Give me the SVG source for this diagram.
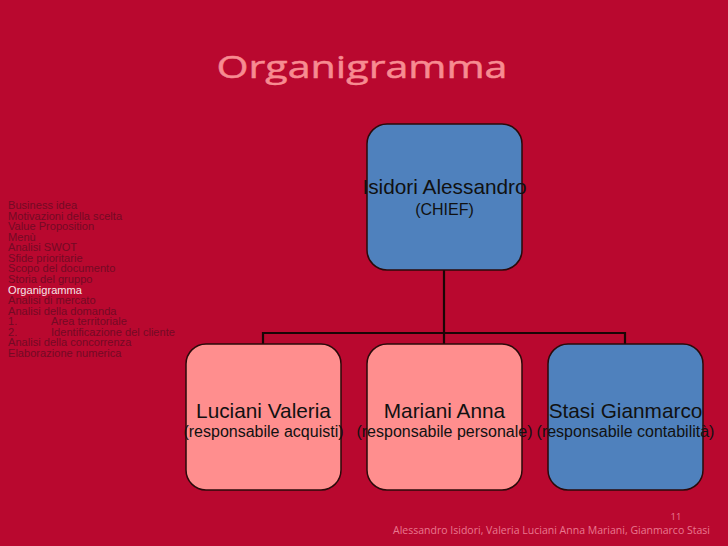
<svg xmlns="http://www.w3.org/2000/svg" width="728" height="546" viewBox="0 0 728 546">
<style>
.box{stroke:#2a0a0a;stroke-width:1.5}
.blue{fill:#4F81BD}
.pink{fill:#FF8E8E}
.name{font-family:"Liberation Sans",Arial,sans-serif;font-size:20.8px;fill:#111;text-anchor:middle}
.role{font-family:"Liberation Sans",Arial,sans-serif;font-size:16px;fill:#111;text-anchor:middle}
.menu{font-family:"Liberation Sans",Arial,sans-serif;font-size:11.1px;fill:#730A24}
.line{stroke:#1a0505;stroke-width:2.2;fill:none}
</style>
<rect width="728" height="546" fill="#B9082F"/>
<text x="362" y="78" font-family="Open Sans,Noto Sans,sans-serif" font-size="31" fill="#F78B91" stroke="#F78B91" stroke-width="0.5" text-anchor="middle" textLength="291" lengthAdjust="spacingAndGlyphs">Organigramma</text>
<g id="menu" class="menu">
<text x="8" y="209">Business idea</text>
<text x="8" y="219.6">Motivazioni della scelta</text>
<text x="8" y="230.1">Value Proposition</text>
<text x="8" y="240.7">Menù</text>
<text x="8" y="251.3">Analisi SWOT</text>
<text x="8" y="261.9">Sfide prioritarie</text>
<text x="8" y="272.4">Scopo del documento</text>
<text x="8" y="283">Storia del gruppo</text>
<text x="8" y="293.6" fill="#F6E4E8">Organigramma</text>
<text x="8" y="304.1">Analisi di mercato</text>
<text x="8" y="314.7">Analisi della domanda</text>
<text x="8" y="325.3">1.</text><text x="51" y="325.3">Area territoriale</text>
<text x="8" y="335.9">2.</text><text x="51" y="335.9">Identificazione del cliente</text>
<text x="8" y="346.4">Analisi della concorrenza</text>
<text x="8" y="357">Elaborazione numerica</text>
</g>
<g id="connectors">
<path class="line" d="M444 270 V344 M263 344 V333 H625 V344"/>
</g>
<g id="chief">
<rect class="box blue" x="367" y="124" width="155" height="146" rx="20"/>
<text class="name" x="444.5" y="194">Isidori Alessandro</text>
<text class="role" x="444.5" y="215">(CHIEF)</text>
</g>
<g id="luciani">
<rect class="box pink" x="186" y="344" width="155" height="146" rx="20"/>
<text class="name" x="263.5" y="418">Luciani Valeria</text>
<text class="role" x="263.5" y="437">(responsabile acquisti)</text>
</g>
<g id="mariani">
<rect class="box pink" x="367" y="344" width="155" height="146" rx="20"/>
<text class="name" x="444.5" y="418">Mariani Anna</text>
<text class="role" x="444.5" y="437">(responsabile personale)</text>
</g>
<g id="stasi">
<rect class="box blue" x="548" y="344" width="155" height="146" rx="20"/>
<text class="name" x="625.5" y="418">Stasi Gianmarco</text>
<text class="role" x="625.5" y="437">(responsabile contabilità)</text>
</g>
<text x="676" y="520" font-family="Open Sans,Noto Sans,sans-serif" font-size="9.5" fill="#E97890" text-anchor="middle">11</text>
<text x="393" y="534" font-family="Open Sans,Noto Sans,sans-serif" font-size="10.5" fill="#E97890" textLength="317" lengthAdjust="spacingAndGlyphs">Alessandro Isidori, Valeria Luciani Anna Mariani, Gianmarco Stasi</text>
</svg>
